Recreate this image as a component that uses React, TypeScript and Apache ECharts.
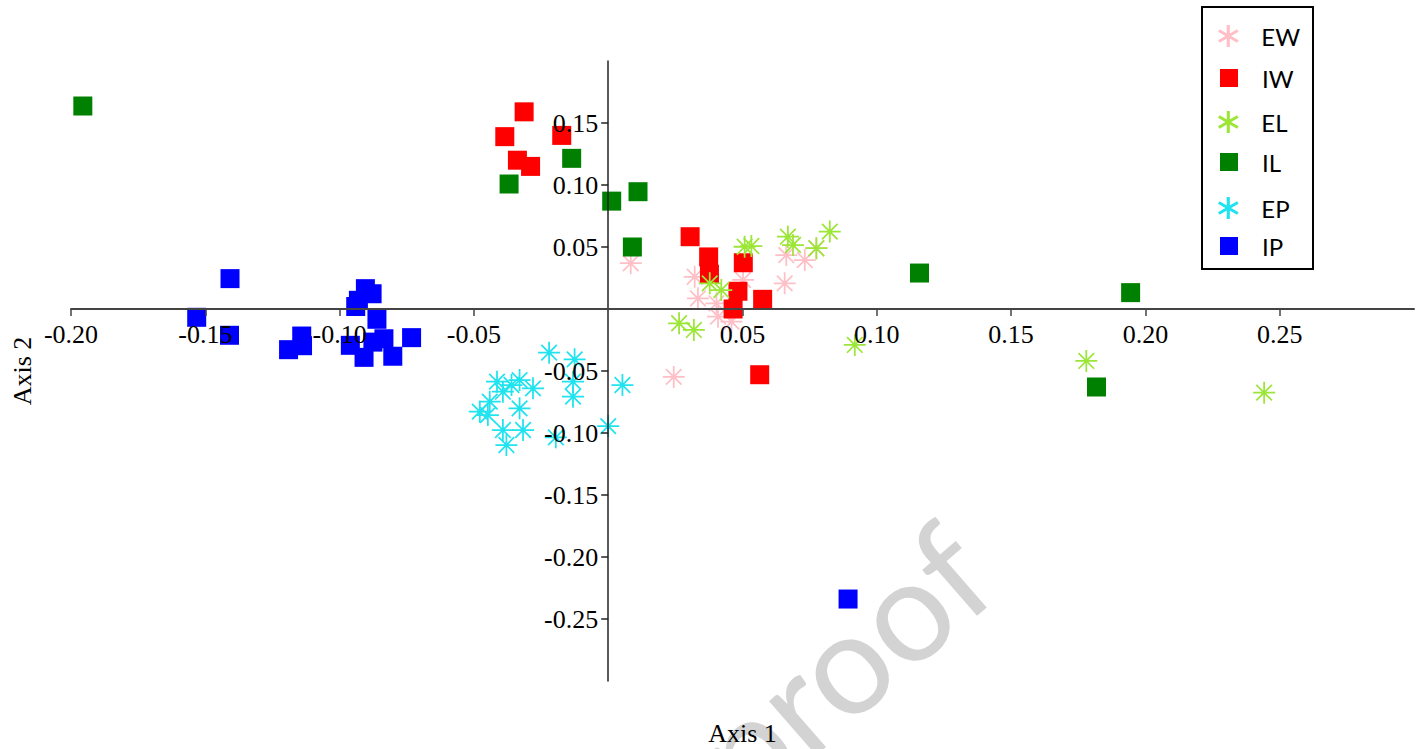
import React, { useEffect, useRef } from "react";
import * as echarts from "echarts";

// ---- data ----
const seriesNames = ["EW", "IW", "EL", "IL", "EP", "IP"];

const EW: number[][] = [
  [0.0084, 0.0369], [0.0322, 0.026], [0.0334, 0.0086], [0.0403, 0.0046],
  [0.0409, -0.0062], [0.0459, -0.0102], [0.0502, 0.0234], [0.0657, 0.0207],
  [0.0663, 0.0435], [0.0732, 0.0395], [0.0775, 0.049], [0.0244, -0.0548],
];
const IW: number[][] = [
  [-0.0313, 0.159], [-0.0385, 0.139], [-0.0338, 0.12], [-0.0289, 0.115],
  [-0.0173, 0.14], [0.0305, 0.0583], [0.0374, 0.042], [0.0377, 0.028],
  [0.0503, 0.0373], [0.0483, 0.0143], [0.0465, 0.0], [0.0575, 0.0078],
  [0.0564, -0.053],
];
const EL: number[][] = [
  [0.0508, 0.0502], [0.0533, 0.0508], [0.0378, 0.0207], [0.0421, 0.0153],
  [0.0264, -0.0115], [0.0319, -0.0169], [0.0669, 0.0583], [0.0688, 0.0516],
  [0.0775, 0.049], [0.0825, 0.0624], [0.0918, -0.029], [0.178, -0.0419],
  [0.2442, -0.0675],
];
const IL: number[][] = [
  [-0.1956, 0.1637], [-0.0136, 0.1215], [-0.0369, 0.1008], [0.0013, 0.087],
  [0.0111, 0.0946], [0.009, 0.05], [0.1159, 0.029], [0.1945, 0.0132],
  [0.1818, -0.0629],
];
const EP: number[][] = [
  [-0.022, -0.0352], [-0.0125, -0.0406], [-0.0414, -0.0586], [-0.033, -0.0573],
  [-0.036, -0.0613], [-0.0392, -0.0667], [-0.028, -0.064], [-0.0131, -0.0586],
  [-0.0131, -0.0707], [-0.0441, -0.0747], [-0.0478, -0.0828], [-0.0448, -0.0855],
  [-0.033, -0.0801], [-0.0392, -0.0976], [-0.0317, -0.0976], [-0.0379, -0.1097],
  [-0.0195, -0.1035], [0.0, -0.0944], [0.0053, -0.0613],
];
const IP: number[][] = [
  [-0.1532, -0.0067], [-0.1408, 0.0245], [-0.141, -0.0212], [-0.119, -0.0328],
  [-0.1141, -0.0218], [-0.1138, -0.0296], [-0.0904, 0.0164], [-0.0879, 0.0123],
  [-0.093, 0.007], [-0.094, 0.002], [-0.0861, -0.0083], [-0.0835, -0.024],
  [-0.0732, -0.0231], [-0.096, -0.0293], [-0.0909, -0.039], [-0.0802, -0.0381],
  [-0.0876, -0.0267], [0.0893, -0.2339],
];

const xTicks = [-0.2, -0.15, -0.1, -0.05, 0.05, 0.1, 0.15, 0.2, 0.25];
const yTicks = [0.15, 0.1, 0.05, -0.05, -0.1, -0.15, -0.2, -0.25];

const colors: Record<string, string> = {
  EW: "#ffbfc6",
  IW: "#ff0000",
  EL: "#9be637",
  IL: "#008000",
  EP: "#1fe3ef",
  IP: "#0000ff",
};

// 8-armed asterisk used for the plotted points
const STAR8 =
  "path://M46 0H54V100H46Z M0 46H100V54H0Z M17.4 11.8L88.2 82.6L82.6 88.2L11.8 17.4Z M88.2 17.4L17.4 88.2L11.8 82.6L82.6 11.8Z";
// 6-armed asterisk used in the legend
const STAR6 =
  "path://M43 0H57V100H43Z M10.2 18.9L96.8 68.9L89.8 81.1L3.2 31.1Z M3.2 68.9L89.8 18.9L96.8 31.1L10.2 81.1Z";

const serif = "Liberation Serif";

// plot area geometry
const GRID_LEFT = 71;
const GRID_RIGHT = 12;
const GRID_TOP = 61;
const GRID_BOTTOM = 68;
const X_MIN = -0.2, X_MAX = 0.3, Y_MIN = -0.3, Y_MAX = 0.2;

export default function App() {
  const ref = useRef<HTMLDivElement>(null);

  useEffect(() => {
    document.body.style.margin = "0";
    if (!ref.current) return;
    const chart = echarts.init(ref.current, undefined, { renderer: "svg" });

    const W = 1426, H = 749;
    const plotW = W - GRID_LEFT - GRID_RIGHT;
    const plotH = H - GRID_TOP - GRID_BOTTOM;
    // offsets that bring the axes to the zero lines (axes cross at the origin)
    const xAxisOffset = -plotH * (0 - Y_MIN) / (Y_MAX - Y_MIN);
    const yAxisOffset = -plotW * (0 - X_MIN) / (X_MAX - X_MIN);

    const dataMap: Record<string, number[][]> = { EW, IW, EL, IL, EP, IP };
    const isStar = (n: string) => n.startsWith("E");

    const series = seriesNames.map((n) => ({
      name: n,
      type: "scatter",
      data: dataMap[n],
      symbol: isStar(n) ? STAR8 : "rect",
      symbolSize: isStar(n) ? 22 : 19,
      itemStyle: { color: colors[n], opacity: 1 },
      emphasis: { disabled: true },
      z: 3,
    }));

    const option: any = {
      animation: false,
      backgroundColor: "#ffffff",
      grid: { left: GRID_LEFT, right: GRID_RIGHT, top: GRID_TOP, bottom: GRID_BOTTOM, containLabel: false, outerBoundsMode: "none" },
      xAxis: {
        type: "value",
        min: X_MIN,
        max: X_MAX,
        interval: 0.05,
        position: "bottom",
        offset: xAxisOffset,
        z: 5,
        name: "Axis 1",
        nameLocation: "middle",
        nameGap: 411,
        nameTextStyle: { fontFamily: serif, fontSize: 26, color: "#000" },
        axisLine: { show: true, onZero: false, lineStyle: { color: "#444", width: 2 } },
        axisTick: { show: true, length: 7, customValues: xTicks, lineStyle: { color: "#444", width: 1.5 } },
        axisLabel: {
          customValues: xTicks,
          margin: 12,
          fontFamily: serif,
          fontSize: 26,
          color: "#000",
          formatter: (v: number) => v.toFixed(2),
        },
        splitLine: { show: false },
      },
      yAxis: {
        type: "value",
        min: Y_MIN,
        max: Y_MAX,
        interval: 0.05,
        position: "left",
        offset: yAxisOffset,
        z: 5,
        name: "Axis 2",
        nameLocation: "middle",
        nameGap: 573,
        nameRotate: 90,
        nameTextStyle: { fontFamily: serif, fontSize: 26, color: "#000" },
        axisLine: { show: true, onZero: false, lineStyle: { color: "#222", width: 1.5 } },
        axisTick: { show: true, length: 7, customValues: yTicks, lineStyle: { color: "#222", width: 1.5 } },
        axisLabel: {
          customValues: yTicks,
          margin: 10,
          fontFamily: serif,
          fontSize: 26,
          color: "#000",
          formatter: (v: number) => v.toFixed(2),
        },
        splitLine: { show: false },
      },
      legend: [
        {
          orient: "vertical",
          left: 1218,
          top: 24,
          padding: 0,
          itemWidth: 22,
          itemHeight: 22,
          itemGap: 62,
          selectedMode: false,
          textStyle: { fontFamily: "Lato", fontSize: 24, color: "#000", lineHeight: 22, padding: [0, 0, 0, 17] },
          data: ["EW", "EL", "EP"].map((n) => ({ name: n, icon: STAR6, itemStyle: { color: colors[n] } })),
        },
        {
          orient: "vertical",
          left: 1220,
          top: 66,
          padding: 0,
          itemWidth: 18,
          itemHeight: 18,
          itemGap: 60,
          selectedMode: false,
          textStyle: { fontFamily: "Lato", fontSize: 24, color: "#000", lineHeight: 18, padding: [0, 0, 0, 19] },
          data: ["IW", "IL", "IP"].map((n) => ({ name: n, icon: "rect", itemStyle: { color: colors[n] } })),
        },
      ],
      graphic: [
        {
          type: "rect",
          z: 10,
          shape: { x: 1202, y: 7, width: 111, height: 262 },
          style: { fill: "none", stroke: "#000", lineWidth: 2 },
        },
        {
          type: "text",
          z: 1,
          x: 840,
          y: 662,
          rotation: (41 * Math.PI) / 180,
          style: {
            text: "proof",
            fill: "#d3d3d3",
            fontSize: 142,
            fontFamily: "Lato",
            textAlign: "center",
            textVerticalAlign: "middle",
            align: "center",
            verticalAlign: "middle",
          },
        },
      ],
      series,
    };

    chart.setOption(option);
    return () => chart.dispose();
  }, []);

  return <div ref={ref} style={{ width: 1426, height: 749 }} />;
}
